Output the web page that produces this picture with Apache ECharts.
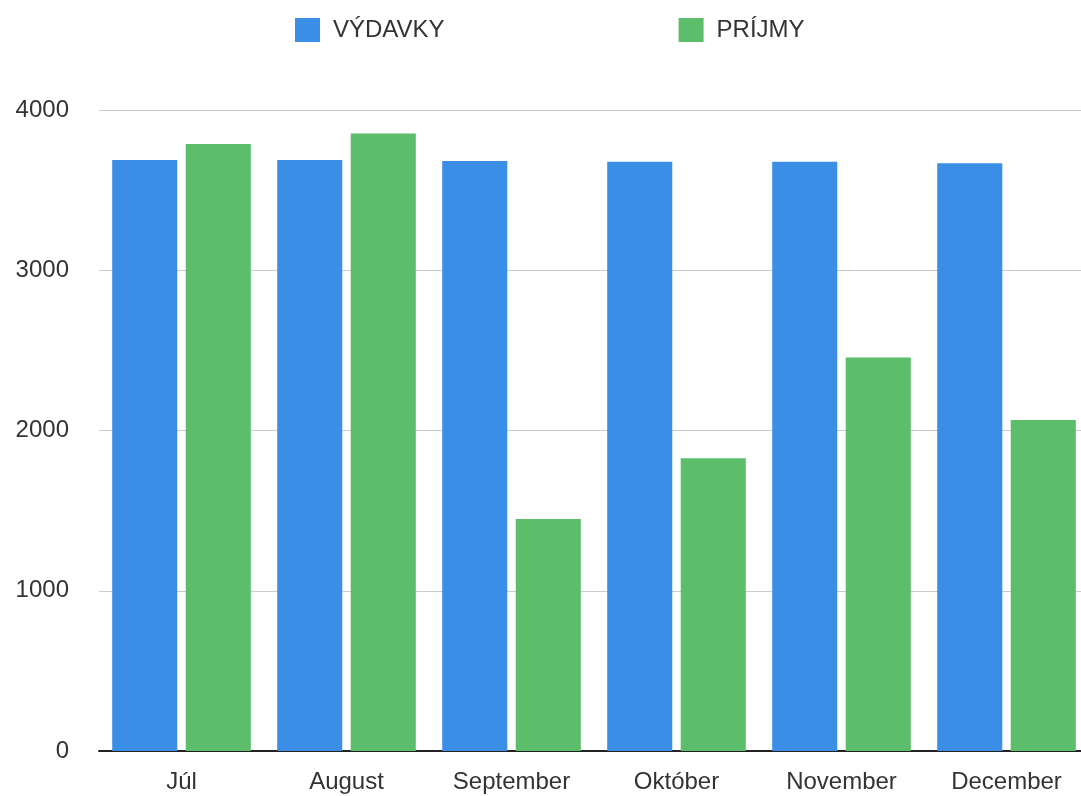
<!DOCTYPE html>
<html>
<head>
<meta charset="utf-8">
<script src="https://cdn.jsdelivr.net/npm/echarts@6/dist/echarts.min.js"></script>
<style>
    html, body { margin: 0; padding: 0; background: #fff; overflow: hidden; }
    /* graf je o kus sirsi ako okno, prava strana je orezana ako v predlohe */
    #chart { width: 1089px; height: 796px; }
</style>
</head>
<body>
<div id="chart"></div>
<script>
    // mesiace
    var months = ['Júl', 'August', 'September', 'Október', 'November', 'December'];
    var vydavky = [3688, 3688, 3681, 3677, 3677, 3667];
    var prijmy = [3788, 3854, 1448, 1827, 2456, 2065];
    var yTicks = [0, 1000, 2000, 3000, 4000];

    var chart = echarts.init(document.getElementById('chart'));

    chart.setOption({
        animation: false,
        textStyle: { fontFamily: 'Liberation Sans, Arial, sans-serif' },
        legend: {
            left: 290,
            top: 13,
            itemWidth: 25,
            itemHeight: 24,
            itemGap: 234,
            icon: 'rect',
            textStyle: { fontSize: 24, color: '#333', padding: [0, 0, 0, 8] },
            data: ['VÝDAVKY', 'PRÍJMY']
        },
        grid: {
            left: 99,
            right: 0,
            top: 110,
            bottom: 45
        },
        xAxis: {
            type: 'category',
            data: months,
            axisLine: { lineStyle: { color: '#222', width: 2 } },
            axisTick: { show: false },
            axisLabel: { fontSize: 24, color: '#333', margin: 19 }
        },
        yAxis: {
            type: 'value',
            min: yTicks[0],
            max: yTicks[yTicks.length - 1],
            interval: 1000,
            axisLine: { show: false },
            axisTick: { show: false },
            axisLabel: {
                fontSize: 24,
                color: '#333',
                margin: 30,
                formatter: function (v) { return String(v); }
            },
            splitLine: { lineStyle: { color: '#ccc', width: 1 } }
        },
        series: [
            {
                name: 'VÝDAVKY',
                type: 'bar',
                barGap: '13%',
                barCategoryGap: '16%',
                itemStyle: { color: '#3a8ee6' },
                data: vydavky
            },
            {
                name: 'PRÍJMY',
                type: 'bar',
                itemStyle: { color: '#5cbd6a' },
                data: prijmy
            }
        ]
    });
</script>
</body>
</html>
